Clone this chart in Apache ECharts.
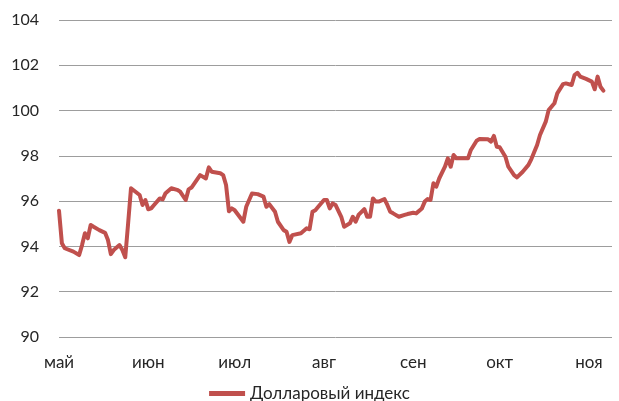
<!DOCTYPE html>
<html>
<head>
<meta charset="utf-8">
<script src="https://cdn.jsdelivr.net/npm/echarts@6/dist/echarts.min.js"></script>
<style>
  html, body { margin: 0; padding: 0; background: #fff; }
  #chart { width: 619px; height: 401px; }
</style>
</head>
<body>
<div id="chart"></div>
<script>
// подписи месяцев
var monthNames = ['янв', 'фев', 'мар', 'апр', 'май', 'июн', 'июл', 'авг', 'сен', 'окт', 'ноя', 'дек'];
var seriesName = 'Долларовый индекс';

// дни от 1 мая и значения индекса
var days = [0, 1, 2, 5, 7, 8, 9, 10, 11, 12, 14, 16, 17, 18, 19, 21, 22, 23, 24, 25,
    28, 29, 30, 31, 32, 33, 35, 36, 37, 39, 41, 42, 44, 45, 46, 49, 51, 52, 53, 56,
    57, 58, 59, 60, 61, 64, 65, 67, 69, 71, 72, 73, 75, 76, 78, 79, 80, 81, 84, 86,
    87, 88, 89, 90, 92, 93, 94, 95, 96, 98, 99, 101, 102, 103, 104, 106, 107, 108, 109, 110,
    111, 113, 114, 115, 116, 118, 120, 121, 123, 124, 126, 127, 128, 129, 130, 131, 132, 134, 135, 136,
    137, 138, 140, 142, 143, 145, 146, 149, 150, 151, 152, 153, 155, 156, 158, 159, 161, 163, 164, 166,
    167, 169, 170, 172, 173, 175, 176, 178, 179, 180, 181, 183, 185, 186, 187, 188, 189];
var values = [95.58, 94.14, 93.92, 93.77, 93.62, 94.06, 94.58, 94.36, 94.95, 94.87, 94.72, 94.6, 94.28, 93.66, 93.84, 94.06, 93.84, 93.52, 95.02, 96.57,
    96.27, 95.83, 96.05, 95.64, 95.68, 95.83, 96.12, 96.08, 96.35, 96.57, 96.5, 96.43, 96.05, 96.52, 96.6, 97.15, 97.0, 97.49, 97.3, 97.23,
    97.15, 96.71, 95.55, 95.68, 95.6, 95.09, 95.75, 96.34, 96.31, 96.2, 95.75, 95.87, 95.53, 95.09, 94.72, 94.65, 94.2, 94.5, 94.58, 94.8,
    94.76, 95.53, 95.6, 95.75, 96.05, 96.05, 95.68, 95.9, 95.83, 95.31, 94.87, 95.02, 95.31, 95.09, 95.39, 95.65, 95.31, 95.31, 96.12, 95.98,
    95.98, 96.09, 95.83, 95.53, 95.46, 95.31, 95.39, 95.43, 95.49, 95.46, 95.68, 95.98, 96.09, 96.05, 96.79, 96.64, 97.0, 97.52, 97.89, 97.52,
    98.04, 97.89, 97.89, 97.89, 98.26, 98.67, 98.74, 98.73, 98.63, 98.88, 98.4, 98.38, 97.96, 97.52, 97.15, 97.05, 97.3, 97.6, 97.86, 98.48,
    98.92, 99.51, 100.02, 100.32, 100.76, 101.17, 101.2, 101.13, 101.57, 101.67, 101.5, 101.4, 101.28, 100.94, 101.5, 101.05, 100.88];

var DAY = 24 * 3600 * 1000;
var startDate = new Date(2016, 4, 1).getTime();

var chart = echarts.init(document.getElementById('chart'));

var seriesData = [];
for (var i = 0; i < days.length; i++) {
    seriesData.push([new Date(2016, 4, 1 + days[i]).getTime(), values[i]]);
}

var font = 'Lato, "Noto Sans", sans-serif';
var textColor = '#262626';

var option = {
    animation: false,
    grid: {
        left: 59,
        right: 7,
        top: 20,
        bottom: 64
    },
    legend: {
        top: 380,
        left: 'center',
        icon: 'rect',
        itemWidth: 36,
        itemHeight: 5,
        textStyle: {
            fontFamily: font,
            fontSize: 17,
            color: textColor
        },
        data: [seriesName]
    },
    xAxis: {
        type: 'time',
        min: startDate,
        max: startDate + 192 * DAY,
        splitNumber: 7,
        maxInterval: 31 * DAY,
        axisLine: { show: false },
        axisTick: { show: false },
        splitLine: { show: false },
        axisLabel: {
            margin: 17,
            fontFamily: font,
            fontSize: 17,
            color: textColor,
            formatter: function(val) {
                return monthNames[new Date(val).getMonth()];
            }
        }
    },
    yAxis: {
        type: 'value',
        min: 90,
        max: 104,
        interval: 2,
        axisLine: { show: false },
        axisTick: { show: false },
        splitLine: {
            lineStyle: { color: '#9d9d9d', width: 1 }
        },
        axisLabel: {
            margin: 20,
            fontFamily: font,
            fontSize: 16,
            color: textColor
        }
    },
    series: [{
        name: seriesName,
        type: 'line',
        showSymbol: false,
        data: seriesData,
        itemStyle: { color: '#c0504d' },
        lineStyle: { color: '#c0504d', width: 4, join: 'round', cap: 'round' }
    }]
};

chart.setOption(option);
</script>
</body>
</html>
